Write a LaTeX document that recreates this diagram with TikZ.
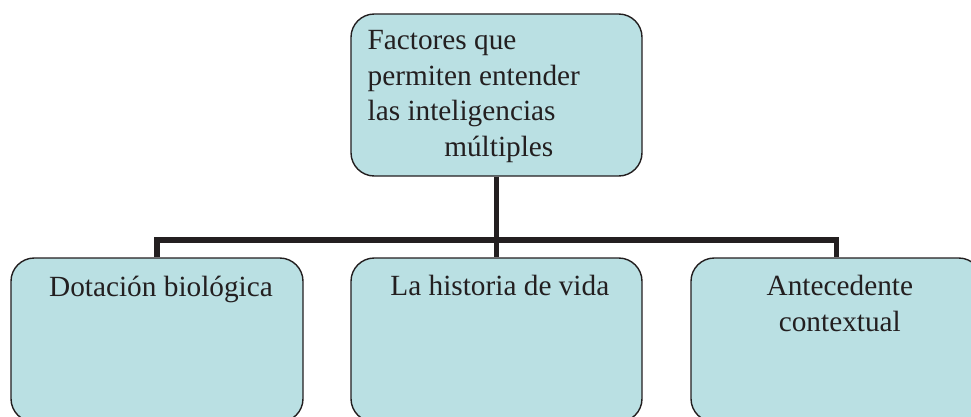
\documentclass[tikz,border=0pt]{standalone}
\usepackage{fontspec}
\setmainfont{Liberation Serif}
\usepackage{tikz}
\usetikzlibrary{positioning, calc}
\definecolor{boxfill}{RGB}{186,224,227}
\definecolor{ink}{RGB}{35,31,32}

\begin{document}
\begin{tikzpicture}[x=0.03cm, y=-0.03cm, semithick,
  box/.style={draw=ink, line width=1.2pt, fill=boxfill, rounded corners=0.7cm, shape=rectangle, minimum width=8.73cm, inner sep=0pt},
  txt/.style={inner sep=0pt, text=ink, font=\fontsize{25}{30.5}\selectfont},
  conn/.style={draw=ink, line width=4.6pt}]
  \clip (0,0) rectangle (971,416);
  \useasboundingbox (0,0) rectangle (971,416);

  % boxes
  \node[box, minimum height=4.86cm] (factores) at (496.5,95) {};
  \node[box, minimum width=8.76cm, minimum height=4.92cm] (bio) at (157,340) {};
  \node[box, minimum height=4.92cm] (vida) at (496.5,340) {};
  \node[box, minimum height=4.92cm] (ctx) at (836.5,340) {};

  % connectors
  \coordinate (bus) at (496.5,240);
  \draw[conn] (factores.south) -- (vida.north);
  \draw[conn] (bio.north) |- (bus) -| (ctx.north);

  % texts
  \node[txt, anchor=north west, align=left] (factorestxt) at ([xshift=0.51cm, yshift=-0.5cm]factores.north west)
    {Factores que\\permiten entender\\las inteligencias\\\hspace*{2.3cm}múltiples};
  \node[txt, anchor=north] (biotxt) at ([xshift=0.12cm, yshift=-0.54cm]bio.north) {Dotación biológica};
  \node[txt, anchor=north] (vidatxt) at ([xshift=0.1cm, yshift=-0.54cm]vida.north) {La historia de vida};
  \node[txt, anchor=north, align=center] (ctxtxt) at ([xshift=0.1cm, yshift=-0.54cm]ctx.north) {Antecedente\\contextual};
\end{tikzpicture}
\end{document}
